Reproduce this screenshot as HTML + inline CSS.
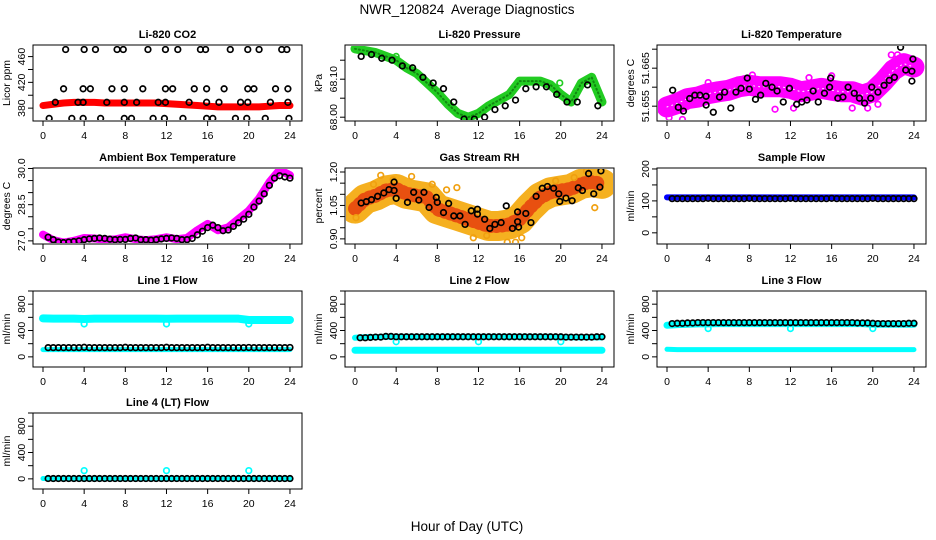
<!DOCTYPE html>
<html><head><meta charset="utf-8">
<style>
body{margin:0;background:#fff;}
svg{display:block;font-family:"Liberation Sans",Arial,sans-serif;}
</style></head>
<body>
<svg id="chart" width="936" height="540" viewBox="0 0 936 540">
<text x="467" y="14" text-anchor="middle" font-size="13.5" style="white-space:pre">NWR_120824  Average Diagnostics</text>
<text x="467" y="531" text-anchor="middle" font-size="13.5">Hour of Day (UTC)</text>
</svg>
<script>
// ---------- DATA ----------
const HOURS=[0,1,2,3,4,5,6,7,8,9,10,11,12,13,14,15,16,17,18,19,20,21,22,23,24];
const XTICKS=[0,4,8,12,16,20,24];
const HALF=[0.5,1,1.5,2,2.5,3,3.5,4,4.5,5,5.5,6,6.5,7,7.5,8,8.5,9,9.5,10,10.5,11,11.5,12,12.5,13,13.5,14,14.5,15,15.5,16,16.5,17,17.5,18,18.5,19,19.5,20,20.5,21,21.5,22,22.5,23,23.5,24];
const HOURLY_PTS=[0.6,1.6,2.6,3.6,4.6,5.6,6.6,7.6,8.6,9.6,10.6,11.6,12.6,13.6,14.6,15.6,16.6,17.6,18.6,19.6,20.6,21.6,22.6,23.6];

// CO2
const co2Band=[384,386,388,389,389,389,388,388,388,388,388,388,387,386,385,384,383,382,382,382,382,382,383,384,384];
const co2T=[2.2,4.0,5.1,7.2,7.8,10.2,11.9,13.1,15.3,15.8,18.2,19.9,21.0,23.2,23.7,
 2.0,3.9,4.6,6.7,7.9,9.7,11.9,12.6,14.7,15.9,17.6,19.9,20.5,22.6,23.8,
 1.2,3.4,3.9,6.2,7.9,9.1,11.2,11.9,14.2,15.9,17.1,19.2,19.9,22.1,23.8,
 0.6,2.8,3.9,5.6,7.9,8.6,10.7,11.8,13.6,15.9,16.5,18.7,19.8,21.6,23.9];
const co2V=[471,471,471,471,471,471,471,471,471,471,471,471,471,471,471,
 410,410,410,410,410,410,410,410,410,410,410,410,410,410,410,
 389,389,389,389,389,389,389,389,389,389,389,389,389,389,389,
 364,364,364,364,364,364,364,364,364,364,364,364,364,364,364];

// Pressure
const presBand=[68.18,68.175,68.17,68.16,68.15,68.13,68.115,68.09,68.065,68.035,68.01,68.0,68.01,68.03,68.045,68.06,68.095,68.095,68.095,68.085,68.06,68.04,68.09,68.105,68.04];
const presV=[68.16,68.165,68.155,68.15,68.135,68.13,68.105,68.09,68.075,68.04,67.995,67.995,68.0,68.02,68.03,68.045,68.075,68.08,68.08,68.06,68.04,68.04,68.085,68.03];

// Li-820 temperature
const tempBand=[51.6548,51.6557,51.657,51.6574,51.6583,51.6588,51.6592,51.6601,51.6605,51.6601,51.6601,51.6601,51.6597,51.6588,51.6592,51.6597,51.6592,51.6588,51.6588,51.6579,51.6588,51.6614,51.6645,51.6662,51.6653];
const tempT=[0.55,1.1,1.6,2.2,2.7,3.2,3.8,3.8,4.5,5.1,5.6,6.2,6.7,7.2,7.8,8.0,8.6,9.1,9.6,10.2,10.7,11.3,11.9,12.6,13.1,13.6,14.2,14.7,15.3,15.8,15.9,16.6,17.1,17.6,18.2,18.7,19.2,19.8,19.9,20.5,21.1,21.6,22.1,22.7,23.2,23.8,23.8,23.9];
const tempV=[51.6592,51.6547,51.6537,51.657,51.6579,51.6579,51.6576,51.6553,51.6534,51.6574,51.6587,51.6545,51.6587,51.6597,51.6624,51.6595,51.6568,51.6579,51.661,51.66,51.659,51.6561,51.6597,51.6555,51.6561,51.6566,51.659,51.6561,51.6584,51.66,51.6624,51.6571,51.6574,51.66,51.6584,51.6571,51.6558,51.6571,51.66,51.6587,51.6605,51.6618,51.6626,51.6705,51.6645,51.6616,51.6642,51.6674];
const tempOutT=[0.2,1.5,4.0,7.5,8.3,10.5,12.3,13.8,16.0,18.0,19.5,20.5,21.8,22.4];
const tempOutV=[51.652,51.6515,51.6612,51.6622,51.6632,51.6542,51.6545,51.6625,51.663,51.6545,51.6545,51.6555,51.6685,51.6685];

// Ambient box temperature
const ambBand=[27.26,27.03,26.93,27.0,27.12,27.1,27.04,27.06,27.15,27.07,27.03,27.07,27.15,27.07,27.12,27.44,27.7,27.44,27.56,27.91,28.25,28.76,29.43,29.94,29.72];
const ambV=[27.15,27.05,26.95,26.93,26.95,26.97,27.0,27.05,27.08,27.1,27.12,27.1,27.07,27.05,27.06,27.06,27.1,27.12,27.05,27.05,27.03,27.05,27.08,27.1,27.12,27.1,27.05,27.05,27.1,27.25,27.4,27.55,27.65,27.55,27.42,27.45,27.6,27.75,27.9,28.1,28.4,28.65,28.95,29.3,29.6,29.7,29.65,29.6];

// Gas stream RH
const rhBand=[1.036,1.079,1.094,1.117,1.124,1.102,1.094,1.086,1.033,1.018,1.003,0.988,0.973,0.958,0.958,0.965,0.988,1.041,1.086,1.109,1.117,1.124,1.147,1.155,1.147];
const rhT=[0.6,1.1,1.6,2.2,2.8,3.3,3.8,3.8,4.0,5.1,5.7,6.2,6.7,7.2,7.9,8.0,8.6,9.1,9.6,10.2,10.7,11.3,11.9,11.9,12.6,13.1,13.6,14.2,14.7,15.3,15.8,15.8,15.9,16.6,17.1,17.6,18.2,18.7,19.3,19.8,19.9,20.5,21.1,21.7,22.1,22.7,23.2,23.8,23.9];
const rhV=[1.061,1.067,1.076,1.091,1.106,1.121,1.117,1.155,1.082,1.064,1.109,1.074,1.109,1.041,1.086,1.064,1.018,1.059,1.003,1.003,0.965,1.026,1.033,1.011,0.988,0.947,0.965,0.973,1.048,0.947,1.021,0.977,0.953,1.014,0.973,1.091,1.127,1.135,1.127,1.102,1.068,1.083,1.071,1.129,1.117,1.193,1.102,1.132,1.205];
const rhOutT=[0.1,1.8,2.5,3.7,5.5,7.5,8.9,9.9,11.5,12.8,14.8,15.6,16.2,19.5,21.3,22.5,23.3];
const rhOutV=[0.995,1.145,1.185,1.165,1.18,1.145,1.12,1.13,0.905,0.915,0.885,0.885,0.905,1.16,1.175,1.205,1.04];

// Sample flow
const sampBand=[111,111,111,111,111,111,111,111,111,111,111,111,111,111,111,111,111,111,111,111,111,111,111,111,111];
const sampV=[107,107,107,107,107,107,107,108,107,107,107,107,107,107,107,108,107,107,107,107,107,107,107,108,107,107,107,107,107,107,107,108,107,107,107,107,107,107,107,108,107,107,107,107,107,107,107,107];

// Line 1
const l1High=[585,580,580,580,575,580,580,580,580,580,580,580,578,580,580,580,580,580,580,580,560,560,560,560,560];
const l1Low=[110,110,110,110,110,110,110,110,110,110,110,110,110,110,110,110,110,110,110,110,110,110,110,110,110];
const l1V=[140,140,140,140,140,140,140,145,140,140,140,140,140,140,140,145,140,140,140,140,140,140,140,145,140,140,140,140,140,140,140,145,140,140,140,140,140,140,140,142,140,140,140,140,140,140,140,142];
const l1SpikeT=[4,12,20]; const l1SpikeV=[500,500,500];

// Line 2
const l2High=[290,300,300,305,305,305,305,305,305,305,305,305,305,305,305,305,305,305,305,305,295,295,295,295,295];
const l2Low=[100,100,100,100,100,100,100,100,100,100,100,100,100,100,100,100,100,100,100,100,100,100,100,100,100];
const l2V=[290,290,295,300,300,310,310,305,305,305,305,305,305,305,305,305,305,305,305,305,305,305,305,305,305,305,305,305,305,305,305,305,305,305,305,305,305,305,305,305,300,300,300,300,300,300,305,305];
const l2SpikeT=[4,12,20]; const l2SpikeV=[230,230,230];

// Line 3
const l3High=[480,490,495,500,500,505,505,505,505,505,505,505,505,505,505,505,505,505,505,505,495,495,495,495,495];
const l3Low=[115,110,110,110,110,110,110,110,110,110,110,110,110,110,110,110,110,110,110,110,110,110,110,110,110];
const l3V=[505,510,510,515,515,520,520,520,520,520,520,520,520,520,520,520,520,520,520,520,520,520,520,520,520,520,520,520,520,520,520,520,520,520,520,520,515,515,515,510,505,505,505,505,505,505,510,510];
const l3SpikeT=[4,12,20]; const l3SpikeV=[430,430,430];

// Line 4
const l4Cyan=[5,3,3,3,3,3,3,3,3,3,3,3,3,3,3,3,3,3,3,3,3,3,3,3,3];
const l4V=[5,5,5,5,5,5,5,5,5,5,5,5,5,5,5,5,5,5,5,5,5,5,5,5,5,5,5,5,5,5,5,5,5,5,5,5,5,5,5,5,5,5,5,5,5,5,5,5];
const l4SpikeT=[4,12,20]; const l4SpikeV=[125,125,125];

// ---------- DRAWING ----------
const NS="http://www.w3.org/2000/svg";
const svg=document.getElementById('chart');
const W=269,H=76;
function mk(tag,attrs,parent){const e=document.createElementNS(NS,tag);for(const k in attrs)e.setAttribute(k,attrs[k]);(parent||svg).appendChild(e);return e;}

function makePanel(name,title,ylab,left,top,ymin,ymax,ticks,labels){
  const g=mk('g',{});
  
  
  const p={g,left,top,ymin,ymax,
    x:h=>left+10+h*10.29,
    y:v=>top+(ymax-v)/(ymax-ymin)*H};
  const t=mk('text',{x:left+W/2,y:top-7,'text-anchor':'middle','font-size':'11','font-weight':'bold'},g);
  t.textContent=title;
  
  
  const box=mk('rect',{x:left,y:top,width:W,height:H,fill:'none',stroke:'#000','stroke-width':1},g);
  
  
  XTICKS.forEach(h=>{
    const xx=p.x(h);
    mk('line',{x1:xx,x2:xx,y1:top+H,y2:top+H+5,stroke:'#000'},g);
    const tl=mk('text',{x:xx,y:top+H+18,'text-anchor':'middle','font-size':'10.5'},g);
    tl.textContent=h;
    
    
  });
  const ys=ticks.map(p.y);
  mk('line',{x1:left,x2:left,y1:Math.min(...ys),y2:Math.max(...ys),stroke:'#000'},g);
  ticks.forEach(v=>{const yy=p.y(v);mk('line',{x1:left-5,x2:left,y1:yy,y2:yy,stroke:'#000'},g);});
  labels.forEach(l=>{
    const yy=p.y(l[0]);
    const tl=mk('text',{x:left-8,y:yy,'text-anchor':'middle','font-size':'10.5',transform:`rotate(-90 ${left-8} ${yy})`},g);
    tl.textContent=l[1];
    
    
  });
  const yl=mk('text',{x:left-23,y:top+H/2,'text-anchor':'middle','font-size':'10.5',transform:`rotate(-90 ${left-23} ${top+H/2})`},g);
  yl.textContent=ylab;
  
  
  const cid='clip-'+name;
  const cp=mk('clipPath',{id:cid},g);
  mk('rect',{x:left+1,y:top+1,width:W-2,height:H-2},cp);
  p.plot=mk('g',{'clip-path':`url(#${cid})`},g);
  return p;
}
function band(p,xs,vs,color,w,nm,dash){
  const pts=xs.map((h,i)=>p.x(h)+','+p.y(vs[i])).join(' ');
  const a={points:pts,fill:'none',stroke:color,'stroke-width':w,'stroke-linejoin':'round','stroke-linecap':'round'};
  if(dash)a['stroke-dasharray']=dash;
  const l=mk('polyline',a,p.plot);
  
  
}
function pts(p,xs,vs,color,nm,r,sw){
  xs.forEach((h,i)=>{
    const c=mk('circle',{cx:p.x(h),cy:p.y(vs[i]),r:r||2.8,fill:'none',stroke:color,'stroke-width':sw||1.7},p.plot);
    
    
  });
}
function steps(a,b,s){const r=[];for(let v=a;v<=b+1e-9;v+=s)r.push(+v.toFixed(4));return r;}

const cols=[33,345,657], rows=[45,168,291,413];
const FT=steps(0,1000,200), FL=[[0,'0'],[400,'400'],[800,'800']];

let p=makePanel('co2','Li-820 CO2','Licor ppm',cols[0],rows[0],360,478,steps(380,460,20),[[380,'380'],[420,'420'],[460,'460']]);
band(p,HOURS,co2Band,'#ff0000',7,'co2-red-band');
pts(p,co2T,co2V,'#000','co2-point');

p=makePanel('pressure','Li-820 Pressure','kPa',cols[1],rows[0],67.99,68.19,[68.0,68.05,68.1,68.15],[[68.0,'68.00'],[68.1,'68.10']]);
band(p,HOURS,presBand,'#22cc22',9,'pressure-green-band');
band(p,HOURS,presBand,'#118811',2,'pressure-dark-speckle','1 3');
pts(p,[4.0,19.9],[68.16,68.09],'#22cc22','pressure-green-point');
pts(p,HOURLY_PTS,presV,'#000','pressure-point');

p=makePanel('li820-temp','Li-820 Temperature','degrees C',cols[2],rows[0],51.6511,51.6711,[51.655,51.66,51.665,51.67],[[51.655,'51.655'],[51.665,'51.665']]);
band(p,HOURS,tempBand,'#ff00ff',21,'temp-magenta-band');
band(p,HOURS,tempBand,'#ffffff',1,'temp-white-speckle','1 4');
pts(p,tempOutT,tempOutV,'#ff00ff','temp-magenta-point');
pts(p,tempT,tempV,'#000','temp-point');

p=makePanel('ambient','Ambient Box Temperature','degrees C',cols[0],rows[1],26.87,30.02,steps(27,30,0.5),[[27,'27.0'],[28.5,'28.5'],[30,'30.0']]);
band(p,HOURS,ambBand,'#ff00ff',8,'ambient-magenta-band');
pts(p,HALF,ambV,'#000','ambient-point');

p=makePanel('rh','Gas Stream RH','percent',cols[1],rows[1],0.877,1.218,steps(0.9,1.2,0.05),[[0.9,'0.90'],[1.05,'1.05'],[1.2,'1.20']]);
band(p,HOURS,rhBand,'#f5b020',30,'rh-orange-band');
band(p,HOURS,rhBand,'#e85010',14,'rh-red-speckle','1 5');
pts(p,rhOutT,rhOutV,'#f0a010','rh-orange-point');
pts(p,rhT,rhV,'#000','rh-point');

p=makePanel('sample-flow','Sample Flow','ml/min',cols[2],rows[1],-35,203,steps(0,200,50),[[0,'0'],[100,'100'],[200,'200']]);
band(p,HOURS,sampBand,'#0000ff',6,'sample-blue-band');
pts(p,HALF,sampV,'#000','sample-point');

p=makePanel('line1-flow','Line 1 Flow','ml/min',cols[0],rows[2],-154,1000,FT,FL);
band(p,HOURS,l1High,'#00ffff',8,'line1-cyan-high');
band(p,HOURS,l1Low,'#00ffff',5,'line1-cyan-low');
pts(p,l1SpikeT,l1SpikeV,'#00ffff','line1-cyan-point');
pts(p,HALF,l1V,'#000','line1-point');

p=makePanel('line2-flow','Line 2 Flow','ml/min',cols[1],rows[2],-154,1000,FT,FL);
band(p,HOURS,l2High,'#00ffff',6,'line2-cyan-high');
band(p,HOURS,l2Low,'#00ffff',7,'line2-cyan-low');
pts(p,l2SpikeT,l2SpikeV,'#00ffff','line2-cyan-point');
pts(p,HALF,l2V,'#000','line2-point');

p=makePanel('line3-flow','Line 3 Flow','ml/min',cols[2],rows[2],-154,1000,FT,FL);
band(p,HOURS,l3High,'#00ffff',7,'line3-cyan-high');
band(p,HOURS,l3Low,'#00ffff',5,'line3-cyan-low');
pts(p,l3SpikeT,l3SpikeV,'#00ffff','line3-cyan-point');
pts(p,HALF,l3V,'#000','line3-point');

p=makePanel('line4-flow','Line 4 (LT) Flow','ml/min',cols[0],rows[3],-154,1000,FT,FL);
band(p,HOURS,l4Cyan,'#00ffff',5,'line4-cyan-band');
pts(p,l4SpikeT,l4SpikeV,'#00ffff','line4-cyan-point');
pts(p,HALF,l4V,'#000','line4-point');
</script>
</body></html>
